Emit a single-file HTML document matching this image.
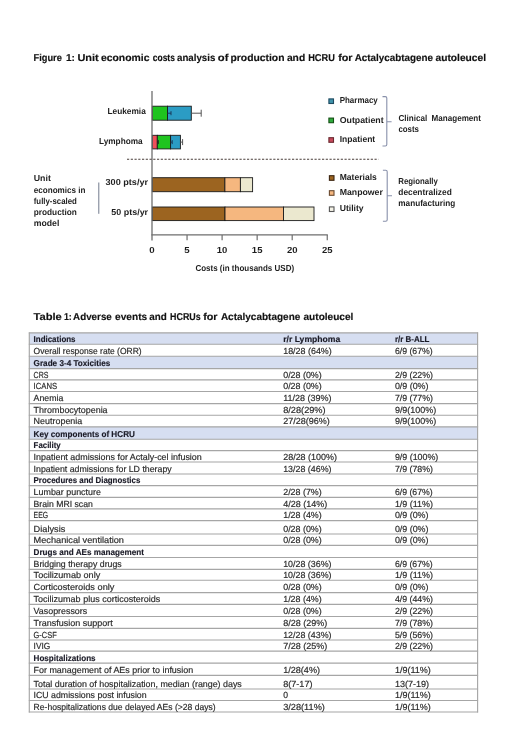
<!DOCTYPE html>
<html><head><meta charset="utf-8"><title>Figure 1 and Table 1</title>
<style>
html,body{margin:0;padding:0;background:#fff;}
body{width:520px;height:751px;position:relative;overflow:hidden;}
svg{position:absolute;left:0;top:0;display:block;filter:blur(0.3px);}
text{font-family:"Liberation Sans",sans-serif;text-rendering:geometricPrecision;white-space:pre;}
</style></head><body>
<svg width="520" height="751" viewBox="0 0 520 751">
<g><rect x='29.3' y='332.90' width='448.30' height='11.30' fill='#d6def1'/><rect x='29.3' y='356.20' width='448.30' height='12.40' fill='#d6def1'/><rect x='29.3' y='426.80' width='448.30' height='12.40' fill='#d6def1'/><line x1='28.8' y1='332.90' x2='478.1' y2='332.90' stroke='#a6a6a6' stroke-width='1.15'/><line x1='28.8' y1='344.20' x2='478.1' y2='344.20' stroke='#a6a6a6' stroke-width='1.15'/><line x1='28.8' y1='356.20' x2='478.1' y2='356.20' stroke='#a6a6a6' stroke-width='1.15'/><line x1='28.8' y1='368.60' x2='478.1' y2='368.60' stroke='#a6a6a6' stroke-width='1.15'/><line x1='28.8' y1='379.90' x2='478.1' y2='379.90' stroke='#a6a6a6' stroke-width='1.15'/><line x1='28.8' y1='391.50' x2='478.1' y2='391.50' stroke='#a6a6a6' stroke-width='1.15'/><line x1='28.8' y1='403.60' x2='478.1' y2='403.60' stroke='#a6a6a6' stroke-width='1.15'/><line x1='28.8' y1='415.20' x2='478.1' y2='415.20' stroke='#a6a6a6' stroke-width='1.15'/><line x1='28.8' y1='426.80' x2='478.1' y2='426.80' stroke='#a6a6a6' stroke-width='1.15'/><line x1='28.8' y1='439.20' x2='478.1' y2='439.20' stroke='#a6a6a6' stroke-width='1.15'/><line x1='28.8' y1='450.60' x2='478.1' y2='450.60' stroke='#a6a6a6' stroke-width='1.15'/><line x1='28.8' y1='462.00' x2='478.1' y2='462.00' stroke='#a6a6a6' stroke-width='1.15'/><line x1='28.8' y1='474.00' x2='478.1' y2='474.00' stroke='#a6a6a6' stroke-width='1.15'/><line x1='28.8' y1='485.60' x2='478.1' y2='485.60' stroke='#a6a6a6' stroke-width='1.15'/><line x1='28.8' y1='497.30' x2='478.1' y2='497.30' stroke='#a6a6a6' stroke-width='1.15'/><line x1='28.8' y1='508.90' x2='478.1' y2='508.90' stroke='#a6a6a6' stroke-width='1.15'/><line x1='28.8' y1='520.60' x2='478.1' y2='520.60' stroke='#a6a6a6' stroke-width='1.15'/><line x1='28.8' y1='534.00' x2='478.1' y2='534.00' stroke='#a6a6a6' stroke-width='1.15'/><line x1='28.8' y1='545.30' x2='478.1' y2='545.30' stroke='#a6a6a6' stroke-width='1.15'/><line x1='28.8' y1='557.50' x2='478.1' y2='557.50' stroke='#a6a6a6' stroke-width='1.15'/><line x1='28.8' y1='569.30' x2='478.1' y2='569.30' stroke='#a6a6a6' stroke-width='1.15'/><line x1='28.8' y1='580.20' x2='478.1' y2='580.20' stroke='#a6a6a6' stroke-width='1.15'/><line x1='28.8' y1='592.60' x2='478.1' y2='592.60' stroke='#a6a6a6' stroke-width='1.15'/><line x1='28.8' y1='604.30' x2='478.1' y2='604.30' stroke='#a6a6a6' stroke-width='1.15'/><line x1='28.8' y1='616.50' x2='478.1' y2='616.50' stroke='#a6a6a6' stroke-width='1.15'/><line x1='28.8' y1='628.30' x2='478.1' y2='628.30' stroke='#a6a6a6' stroke-width='1.15'/><line x1='28.8' y1='640.00' x2='478.1' y2='640.00' stroke='#a6a6a6' stroke-width='1.15'/><line x1='28.8' y1='651.10' x2='478.1' y2='651.10' stroke='#a6a6a6' stroke-width='1.15'/><line x1='28.8' y1='663.10' x2='478.1' y2='663.10' stroke='#a6a6a6' stroke-width='1.15'/><line x1='28.8' y1='675.30' x2='478.1' y2='675.30' stroke='#a6a6a6' stroke-width='1.15'/><line x1='28.8' y1='689.00' x2='478.1' y2='689.00' stroke='#a6a6a6' stroke-width='1.15'/><line x1='28.8' y1='700.50' x2='478.1' y2='700.50' stroke='#a6a6a6' stroke-width='1.15'/><line x1='28.8' y1='712.00' x2='478.1' y2='712.00' stroke='#a6a6a6' stroke-width='1.15'/><line x1='29.3' y1='332.4' x2='29.3' y2='712.5' stroke='#a6a6a6' stroke-width='1.15'/><line x1='477.6' y1='332.4' x2='477.6' y2='712.5' stroke='#a6a6a6' stroke-width='1.15'/></g>
<g><rect x='152.30' y='106.20' width='15.20' height='14.00' fill='#1fc41f' stroke='#1a1a1a' stroke-width='0.9'/><rect x='167.50' y='106.20' width='23.80' height='14.00' fill='#2b9cc4' stroke='#1a1a1a' stroke-width='0.9'/><rect x='152.30' y='135.30' width='5.00' height='13.60' fill='#f0505a' stroke='#1a1a1a' stroke-width='0.9'/><rect x='157.30' y='135.30' width='13.30' height='13.60' fill='#1fc41f' stroke='#1a1a1a' stroke-width='0.9'/><rect x='170.60' y='135.30' width='9.80' height='13.60' fill='#2b9cc4' stroke='#1a1a1a' stroke-width='0.9'/><rect x='152.30' y='177.70' width='72.60' height='14.00' fill='#9c6420' stroke='#1a1a1a' stroke-width='0.9'/><rect x='224.90' y='177.70' width='15.50' height='14.00' fill='#f5b77f' stroke='#1a1a1a' stroke-width='0.9'/><rect x='240.40' y='177.70' width='12.20' height='14.00' fill='#ebe8cf' stroke='#1a1a1a' stroke-width='0.9'/><rect x='152.30' y='207.00' width='72.70' height='13.60' fill='#9c6420' stroke='#1a1a1a' stroke-width='0.9'/><rect x='225.00' y='207.00' width='58.50' height='13.60' fill='#f5b77f' stroke='#1a1a1a' stroke-width='0.9'/><rect x='283.50' y='207.00' width='30.50' height='13.60' fill='#ebe8cf' stroke='#1a1a1a' stroke-width='0.9'/><line x1='191.30' y1='113.20' x2='201.20' y2='113.20' stroke='#555' stroke-width='1.0'/><line x1='201.20' y1='109.70' x2='201.20' y2='116.70' stroke='#555' stroke-width='1.0'/><line x1='167.50' y1='113.20' x2='171.00' y2='113.20' stroke='#1a3a5a' stroke-width='1.0'/><line x1='171.00' y1='111.20' x2='171.00' y2='115.20' stroke='#1a3a5a' stroke-width='1.0'/><line x1='180.40' y1='142.10' x2='182.60' y2='142.10' stroke='#555' stroke-width='1.0'/><line x1='182.60' y1='139.10' x2='182.60' y2='145.10' stroke='#555' stroke-width='1.0'/><line x1='170.60' y1='142.10' x2='172.20' y2='142.10' stroke='#1a3a5a' stroke-width='1.0'/><line x1='172.20' y1='140.10' x2='172.20' y2='144.10' stroke='#1a3a5a' stroke-width='1.0'/><line x1='157.30' y1='142.10' x2='158.30' y2='142.10' stroke='#222' stroke-width='1.0'/><line x1='158.30' y1='140.10' x2='158.30' y2='144.10' stroke='#222' stroke-width='1.0'/><line x1='152' y1='91' x2='152' y2='240.5' stroke='#6e6e6e' stroke-width='1.3'/><line x1='151.4' y1='234.9' x2='327.85' y2='234.9' stroke='#6e6e6e' stroke-width='1.3'/><line x1='187.05' y1='234.9' x2='187.05' y2='240.3' stroke='#6e6e6e' stroke-width='1.2'/><line x1='222.10' y1='234.9' x2='222.10' y2='240.3' stroke='#6e6e6e' stroke-width='1.2'/><line x1='257.15' y1='234.9' x2='257.15' y2='240.3' stroke='#6e6e6e' stroke-width='1.2'/><line x1='292.20' y1='234.9' x2='292.20' y2='240.3' stroke='#6e6e6e' stroke-width='1.2'/><line x1='327.25' y1='234.9' x2='327.25' y2='240.3' stroke='#6e6e6e' stroke-width='1.2'/><line x1='127' y1='159.3' x2='378.5' y2='159.3' stroke='#4a3e3a' stroke-width='1.1' stroke-dasharray='2.2 1.55'/><rect x='328.90' y='98.90' width='4.6' height='4.6' fill='#3f93ab' stroke='#1e4a60' stroke-width='1.1'/><rect x='328.90' y='118.10' width='4.6' height='4.6' fill='#2faa3c' stroke='#145014' stroke-width='1.1'/><rect x='328.90' y='137.70' width='4.6' height='4.6' fill='#c84a5c' stroke='#6a2a30' stroke-width='1.1'/><rect x='329.40' y='175.70' width='4.6' height='4.6' fill='#9c6420' stroke='#3a2410' stroke-width='1.1'/><rect x='329.40' y='190.70' width='4.6' height='4.6' fill='#f5b77f' stroke='#6a4a30' stroke-width='1.1'/><rect x='329.40' y='206.90' width='4.6' height='4.6' fill='#f4f2e6' stroke='#555' stroke-width='1.1'/><path d='M382.50,96.60 L385.30,96.60 Q386.80,96.60 386.80,98.10 L386.80,144.50 Q386.80,146.00 385.30,146.00 L382.50,146.00 M386.80,121.80 L391.60,121.80' fill='none' stroke='#8890aa' stroke-width='1.1'/><path d='M382.90,170.20 L385.70,170.20 Q387.20,170.20 387.20,171.70 L387.20,219.70 Q387.20,221.20 385.70,221.20 L382.90,221.20 M387.20,195.80 L392.00,195.80' fill='none' stroke='#8890aa' stroke-width='1.1'/><line x1='98.8' y1='182.5' x2='98.8' y2='213.8' stroke='#6c7488' stroke-width='0.95'/></g>
<g><text x='33.60' y='341.80' font-size='8.5' font-weight="700" fill='#1a1a26' stroke='#1a1a26' stroke-width='0.15' textLength='41.90' lengthAdjust='spacingAndGlyphs'>Indications</text><text x='283.20' y='341.80' font-size='8.5' font-weight="700" fill='#1a1a26' stroke='#1a1a26' stroke-width='0.15' textLength='57.10' lengthAdjust='spacingAndGlyphs'>r/r Lymphoma</text><text x='394.90' y='341.80' font-size='8.5' font-weight="700" fill='#1a1a26' stroke='#1a1a26' stroke-width='0.15' textLength='34.50' lengthAdjust='spacingAndGlyphs'>r/r B-ALL</text><text x='33.60' y='353.80' font-size='8.8' fill='#2a2a2a' stroke='#2a2a2a' stroke-width='0.18' textLength='108.00' lengthAdjust='spacingAndGlyphs'>Overall response rate (ORR)</text><text x='283.20' y='353.80' font-size='8.8' fill='#2a2a2a' stroke='#2a2a2a' stroke-width='0.18' textLength='48.60' lengthAdjust='spacingAndGlyphs'>18/28 (64%)</text><text x='394.90' y='353.80' font-size='8.8' fill='#2a2a2a' stroke='#2a2a2a' stroke-width='0.18' textLength='37.80' lengthAdjust='spacingAndGlyphs'>6/9 (67%)</text><text x='33.60' y='366.20' font-size='8.5' font-weight="700" fill='#1a1a26' stroke='#1a1a26' stroke-width='0.15' textLength='76.80' lengthAdjust='spacingAndGlyphs'>Grade 3-4 Toxicities</text><text x='33.60' y='377.50' font-size='8.8' fill='#2a2a2a' stroke='#2a2a2a' stroke-width='0.18' textLength='14.80' lengthAdjust='spacingAndGlyphs'>CRS</text><text x='283.20' y='377.50' font-size='8.8' fill='#2a2a2a' stroke='#2a2a2a' stroke-width='0.18' textLength='38.50' lengthAdjust='spacingAndGlyphs'>0/28 (0%)</text><text x='394.90' y='377.50' font-size='8.8' fill='#2a2a2a' stroke='#2a2a2a' stroke-width='0.18' textLength='38.10' lengthAdjust='spacingAndGlyphs'>2/9 (22%)</text><text x='33.60' y='389.10' font-size='8.8' fill='#2a2a2a' stroke='#2a2a2a' stroke-width='0.18' textLength='23.50' lengthAdjust='spacingAndGlyphs'>ICANS</text><text x='283.20' y='389.10' font-size='8.8' fill='#2a2a2a' stroke='#2a2a2a' stroke-width='0.18' textLength='38.50' lengthAdjust='spacingAndGlyphs'>0/28 (0%)</text><text x='394.90' y='389.10' font-size='8.8' fill='#2a2a2a' stroke='#2a2a2a' stroke-width='0.18' textLength='33.60' lengthAdjust='spacingAndGlyphs'>0/9 (0%)</text><text x='33.60' y='401.20' font-size='8.8' fill='#2a2a2a' stroke='#2a2a2a' stroke-width='0.18' textLength='29.80' lengthAdjust='spacingAndGlyphs'>Anemia</text><text x='283.20' y='401.20' font-size='8.8' fill='#2a2a2a' stroke='#2a2a2a' stroke-width='0.18' textLength='48.30' lengthAdjust='spacingAndGlyphs'>11/28 (39%)</text><text x='394.90' y='401.20' font-size='8.8' fill='#2a2a2a' stroke='#2a2a2a' stroke-width='0.18' textLength='38.10' lengthAdjust='spacingAndGlyphs'>7/9 (77%)</text><text x='33.60' y='412.80' font-size='8.8' fill='#2a2a2a' stroke='#2a2a2a' stroke-width='0.18' textLength='74.00' lengthAdjust='spacingAndGlyphs'>Thrombocytopenia</text><text x='283.20' y='412.80' font-size='8.8' fill='#2a2a2a' stroke='#2a2a2a' stroke-width='0.18' textLength='42.40' lengthAdjust='spacingAndGlyphs'>8/28(29%)</text><text x='394.90' y='412.80' font-size='8.8' fill='#2a2a2a' stroke='#2a2a2a' stroke-width='0.18' textLength='41.40' lengthAdjust='spacingAndGlyphs'>9/9(100%)</text><text x='33.60' y='424.40' font-size='8.8' fill='#2a2a2a' stroke='#2a2a2a' stroke-width='0.18' textLength='48.70' lengthAdjust='spacingAndGlyphs'>Neutropenia</text><text x='283.20' y='424.40' font-size='8.8' fill='#2a2a2a' stroke='#2a2a2a' stroke-width='0.18' textLength='46.60' lengthAdjust='spacingAndGlyphs'>27/28(96%)</text><text x='394.90' y='424.40' font-size='8.8' fill='#2a2a2a' stroke='#2a2a2a' stroke-width='0.18' textLength='41.40' lengthAdjust='spacingAndGlyphs'>9/9(100%)</text><text x='33.60' y='436.80' font-size='8.5' font-weight="700" fill='#1a1a26' stroke='#1a1a26' stroke-width='0.15' textLength='101.30' lengthAdjust='spacingAndGlyphs'>Key components of HCRU</text><text x='33.60' y='448.20' font-size='8.5' font-weight="700" fill='#1a1a26' stroke='#1a1a26' stroke-width='0.15' textLength='27.10' lengthAdjust='spacingAndGlyphs'>Facility</text><text x='33.60' y='459.60' font-size='8.8' fill='#2a2a2a' stroke='#2a2a2a' stroke-width='0.18' textLength='168.20' lengthAdjust='spacingAndGlyphs'>Inpatient admissions for Actaly-cel infusion</text><text x='283.20' y='459.60' font-size='8.8' fill='#2a2a2a' stroke='#2a2a2a' stroke-width='0.18' textLength='53.80' lengthAdjust='spacingAndGlyphs'>28/28 (100%)</text><text x='394.90' y='459.60' font-size='8.8' fill='#2a2a2a' stroke='#2a2a2a' stroke-width='0.18' textLength='43.40' lengthAdjust='spacingAndGlyphs'>9/9 (100%)</text><text x='33.60' y='471.60' font-size='8.8' fill='#2a2a2a' stroke='#2a2a2a' stroke-width='0.18' textLength='138.10' lengthAdjust='spacingAndGlyphs'>Inpatient admissions for LD therapy</text><text x='283.20' y='471.60' font-size='8.8' fill='#2a2a2a' stroke='#2a2a2a' stroke-width='0.18' textLength='48.30' lengthAdjust='spacingAndGlyphs'>13/28 (46%)</text><text x='394.90' y='471.60' font-size='8.8' fill='#2a2a2a' stroke='#2a2a2a' stroke-width='0.18' textLength='38.10' lengthAdjust='spacingAndGlyphs'>7/9 (78%)</text><text x='33.60' y='483.20' font-size='8.5' font-weight="700" fill='#1a1a26' stroke='#1a1a26' stroke-width='0.15' textLength='106.70' lengthAdjust='spacingAndGlyphs'>Procedures and Diagnostics</text><text x='33.60' y='494.90' font-size='8.8' fill='#2a2a2a' stroke='#2a2a2a' stroke-width='0.18' textLength='67.30' lengthAdjust='spacingAndGlyphs'>Lumbar puncture</text><text x='283.20' y='494.90' font-size='8.8' fill='#2a2a2a' stroke='#2a2a2a' stroke-width='0.18' textLength='38.50' lengthAdjust='spacingAndGlyphs'>2/28 (7%)</text><text x='394.90' y='494.90' font-size='8.8' fill='#2a2a2a' stroke='#2a2a2a' stroke-width='0.18' textLength='37.80' lengthAdjust='spacingAndGlyphs'>6/9 (67%)</text><text x='33.60' y='506.50' font-size='8.8' fill='#2a2a2a' stroke='#2a2a2a' stroke-width='0.18' textLength='59.20' lengthAdjust='spacingAndGlyphs'>Brain MRI scan</text><text x='283.20' y='506.50' font-size='8.8' fill='#2a2a2a' stroke='#2a2a2a' stroke-width='0.18' textLength='44.00' lengthAdjust='spacingAndGlyphs'>4/28 (14%)</text><text x='394.90' y='506.50' font-size='8.8' fill='#2a2a2a' stroke='#2a2a2a' stroke-width='0.18' textLength='38.10' lengthAdjust='spacingAndGlyphs'>1/9 (11%)</text><text x='33.60' y='518.20' font-size='8.8' fill='#2a2a2a' stroke='#2a2a2a' stroke-width='0.18' textLength='14.40' lengthAdjust='spacingAndGlyphs'>EEG</text><text x='283.20' y='518.20' font-size='8.8' fill='#2a2a2a' stroke='#2a2a2a' stroke-width='0.18' textLength='38.50' lengthAdjust='spacingAndGlyphs'>1/28 (4%)</text><text x='394.90' y='518.20' font-size='8.8' fill='#2a2a2a' stroke='#2a2a2a' stroke-width='0.18' textLength='33.60' lengthAdjust='spacingAndGlyphs'>0/9 (0%)</text><text x='33.60' y='531.60' font-size='8.8' fill='#2a2a2a' stroke='#2a2a2a' stroke-width='0.18' textLength='31.70' lengthAdjust='spacingAndGlyphs'>Dialysis</text><text x='283.20' y='531.60' font-size='8.8' fill='#2a2a2a' stroke='#2a2a2a' stroke-width='0.18' textLength='38.50' lengthAdjust='spacingAndGlyphs'>0/28 (0%)</text><text x='394.90' y='531.60' font-size='8.8' fill='#2a2a2a' stroke='#2a2a2a' stroke-width='0.18' textLength='33.60' lengthAdjust='spacingAndGlyphs'>0/9 (0%)</text><text x='33.60' y='542.90' font-size='8.8' fill='#2a2a2a' stroke='#2a2a2a' stroke-width='0.18' textLength='90.40' lengthAdjust='spacingAndGlyphs'>Mechanical ventilation</text><text x='283.20' y='542.90' font-size='8.8' fill='#2a2a2a' stroke='#2a2a2a' stroke-width='0.18' textLength='38.50' lengthAdjust='spacingAndGlyphs'>0/28 (0%)</text><text x='394.90' y='542.90' font-size='8.8' fill='#2a2a2a' stroke='#2a2a2a' stroke-width='0.18' textLength='33.60' lengthAdjust='spacingAndGlyphs'>0/9 (0%)</text><text x='33.60' y='555.10' font-size='8.5' font-weight="700" fill='#1a1a26' stroke='#1a1a26' stroke-width='0.15' textLength='110.30' lengthAdjust='spacingAndGlyphs'>Drugs and AEs management</text><text x='33.60' y='566.90' font-size='8.8' fill='#2a2a2a' stroke='#2a2a2a' stroke-width='0.18' textLength='88.10' lengthAdjust='spacingAndGlyphs'>Bridging therapy drugs</text><text x='283.20' y='566.90' font-size='8.8' fill='#2a2a2a' stroke='#2a2a2a' stroke-width='0.18' textLength='48.30' lengthAdjust='spacingAndGlyphs'>10/28 (36%)</text><text x='394.90' y='566.90' font-size='8.8' fill='#2a2a2a' stroke='#2a2a2a' stroke-width='0.18' textLength='37.80' lengthAdjust='spacingAndGlyphs'>6/9 (67%)</text><text x='33.60' y='577.80' font-size='8.8' fill='#2a2a2a' stroke='#2a2a2a' stroke-width='0.18' textLength='66.60' lengthAdjust='spacingAndGlyphs'>Tocilizumab only</text><text x='283.20' y='577.80' font-size='8.8' fill='#2a2a2a' stroke='#2a2a2a' stroke-width='0.18' textLength='48.30' lengthAdjust='spacingAndGlyphs'>10/28 (36%)</text><text x='394.90' y='577.80' font-size='8.8' fill='#2a2a2a' stroke='#2a2a2a' stroke-width='0.18' textLength='38.10' lengthAdjust='spacingAndGlyphs'>1/9 (11%)</text><text x='33.60' y='590.20' font-size='8.8' fill='#2a2a2a' stroke='#2a2a2a' stroke-width='0.18' textLength='80.80' lengthAdjust='spacingAndGlyphs'>Corticosteroids only</text><text x='283.20' y='590.20' font-size='8.8' fill='#2a2a2a' stroke='#2a2a2a' stroke-width='0.18' textLength='38.50' lengthAdjust='spacingAndGlyphs'>0/28 (0%)</text><text x='394.90' y='590.20' font-size='8.8' fill='#2a2a2a' stroke='#2a2a2a' stroke-width='0.18' textLength='33.60' lengthAdjust='spacingAndGlyphs'>0/9 (0%)</text><text x='33.60' y='601.90' font-size='8.8' fill='#2a2a2a' stroke='#2a2a2a' stroke-width='0.18' textLength='126.60' lengthAdjust='spacingAndGlyphs'>Tocilizumab plus corticosteroids</text><text x='283.20' y='601.90' font-size='8.8' fill='#2a2a2a' stroke='#2a2a2a' stroke-width='0.18' textLength='38.50' lengthAdjust='spacingAndGlyphs'>1/28 (4%)</text><text x='394.90' y='601.90' font-size='8.8' fill='#2a2a2a' stroke='#2a2a2a' stroke-width='0.18' textLength='38.10' lengthAdjust='spacingAndGlyphs'>4/9 (44%)</text><text x='33.60' y='614.10' font-size='8.8' fill='#2a2a2a' stroke='#2a2a2a' stroke-width='0.18' textLength='53.60' lengthAdjust='spacingAndGlyphs'>Vasopressors</text><text x='283.20' y='614.10' font-size='8.8' fill='#2a2a2a' stroke='#2a2a2a' stroke-width='0.18' textLength='38.50' lengthAdjust='spacingAndGlyphs'>0/28 (0%)</text><text x='394.90' y='614.10' font-size='8.8' fill='#2a2a2a' stroke='#2a2a2a' stroke-width='0.18' textLength='38.10' lengthAdjust='spacingAndGlyphs'>2/9 (22%)</text><text x='33.60' y='625.90' font-size='8.8' fill='#2a2a2a' stroke='#2a2a2a' stroke-width='0.18' textLength='79.20' lengthAdjust='spacingAndGlyphs'>Transfusion support</text><text x='283.20' y='625.90' font-size='8.8' fill='#2a2a2a' stroke='#2a2a2a' stroke-width='0.18' textLength='44.00' lengthAdjust='spacingAndGlyphs'>8/28 (29%)</text><text x='394.90' y='625.90' font-size='8.8' fill='#2a2a2a' stroke='#2a2a2a' stroke-width='0.18' textLength='38.10' lengthAdjust='spacingAndGlyphs'>7/9 (78%)</text><text x='33.60' y='637.60' font-size='8.8' fill='#2a2a2a' stroke='#2a2a2a' stroke-width='0.18' textLength='23.10' lengthAdjust='spacingAndGlyphs'>G-CSF</text><text x='283.20' y='637.60' font-size='8.8' fill='#2a2a2a' stroke='#2a2a2a' stroke-width='0.18' textLength='48.30' lengthAdjust='spacingAndGlyphs'>12/28 (43%)</text><text x='394.90' y='637.60' font-size='8.8' fill='#2a2a2a' stroke='#2a2a2a' stroke-width='0.18' textLength='38.10' lengthAdjust='spacingAndGlyphs'>5/9 (56%)</text><text x='33.60' y='648.70' font-size='8.8' fill='#2a2a2a' stroke='#2a2a2a' stroke-width='0.18' textLength='16.70' lengthAdjust='spacingAndGlyphs'>IVIG</text><text x='283.20' y='648.70' font-size='8.8' fill='#2a2a2a' stroke='#2a2a2a' stroke-width='0.18' textLength='44.00' lengthAdjust='spacingAndGlyphs'>7/28 (25%)</text><text x='394.90' y='648.70' font-size='8.8' fill='#2a2a2a' stroke='#2a2a2a' stroke-width='0.18' textLength='38.10' lengthAdjust='spacingAndGlyphs'>2/9 (22%)</text><text x='33.60' y='660.70' font-size='8.5' font-weight="700" fill='#1a1a26' stroke='#1a1a26' stroke-width='0.15' textLength='62.00' lengthAdjust='spacingAndGlyphs'>Hospitalizations</text><text x='33.60' y='672.90' font-size='8.8' fill='#2a2a2a' stroke='#2a2a2a' stroke-width='0.18' textLength='159.60' lengthAdjust='spacingAndGlyphs'>For management of AEs prior to infusion</text><text x='283.20' y='672.90' font-size='8.8' fill='#2a2a2a' stroke='#2a2a2a' stroke-width='0.18' textLength='36.80' lengthAdjust='spacingAndGlyphs'>1/28(4%)</text><text x='394.90' y='672.90' font-size='8.8' fill='#2a2a2a' stroke='#2a2a2a' stroke-width='0.18' textLength='35.90' lengthAdjust='spacingAndGlyphs'>1/9(11%)</text><text x='33.60' y='686.60' font-size='8.8' fill='#2a2a2a' stroke='#2a2a2a' stroke-width='0.18' textLength='208.20' lengthAdjust='spacingAndGlyphs'>Total duration of hospitalization, median (range) days</text><text x='283.20' y='686.60' font-size='8.8' fill='#2a2a2a' stroke='#2a2a2a' stroke-width='0.18' textLength='29.30' lengthAdjust='spacingAndGlyphs'>8(7-17)</text><text x='394.90' y='686.60' font-size='8.8' fill='#2a2a2a' stroke='#2a2a2a' stroke-width='0.18' textLength='34.20' lengthAdjust='spacingAndGlyphs'>13(7-19)</text><text x='33.60' y='698.10' font-size='8.8' fill='#2a2a2a' stroke='#2a2a2a' stroke-width='0.18' textLength='113.00' lengthAdjust='spacingAndGlyphs'>ICU admissions post infusion</text><text x='283.20' y='698.10' font-size='8.8' fill='#2a2a2a' stroke='#2a2a2a' stroke-width='0.18' textLength='4.80' lengthAdjust='spacingAndGlyphs'>0</text><text x='394.90' y='698.10' font-size='8.8' fill='#2a2a2a' stroke='#2a2a2a' stroke-width='0.18' textLength='35.90' lengthAdjust='spacingAndGlyphs'>1/9(11%)</text><text x='33.60' y='709.60' font-size='8.8' fill='#2a2a2a' stroke='#2a2a2a' stroke-width='0.18' textLength='182.00' lengthAdjust='spacingAndGlyphs'>Re-hospitalizations due delayed AEs (&gt;28 days)</text><text x='283.20' y='709.60' font-size='8.8' fill='#2a2a2a' stroke='#2a2a2a' stroke-width='0.18' textLength='41.70' lengthAdjust='spacingAndGlyphs'>3/28(11%)</text><text x='394.90' y='709.60' font-size='8.8' fill='#2a2a2a' stroke='#2a2a2a' stroke-width='0.18' textLength='35.90' lengthAdjust='spacingAndGlyphs'>1/9(11%)</text><text x='33.50' y='60.50' font-size='10.0' font-weight="700" fill='#111' stroke='#111' stroke-width='0.15' textLength='28.30' lengthAdjust='spacingAndGlyphs'>Figure</text><text x='65.90' y='60.50' font-size='10.0' font-weight="700" fill='#111' stroke='#111' stroke-width='0.15' textLength='9.00' lengthAdjust='spacingAndGlyphs'>1:</text><text x='77.40' y='60.50' font-size='10.0' font-weight="700" fill='#111' stroke='#111' stroke-width='0.15' textLength='21.40' lengthAdjust='spacingAndGlyphs'>Unit</text><text x='100.90' y='60.50' font-size='10.0' font-weight="700" fill='#111' stroke='#111' stroke-width='0.15' textLength='48.60' lengthAdjust='spacingAndGlyphs'>economic</text><text x='152.80' y='60.50' font-size='10.0' font-weight="700" fill='#111' stroke='#111' stroke-width='0.15' textLength='22.10' lengthAdjust='spacingAndGlyphs'>costs</text><text x='177.00' y='60.50' font-size='10.0' font-weight="700" fill='#111' stroke='#111' stroke-width='0.15' textLength='38.30' lengthAdjust='spacingAndGlyphs'>analysis</text><text x='217.80' y='60.50' font-size='10.0' font-weight="700" fill='#111' stroke='#111' stroke-width='0.15' textLength='10.60' lengthAdjust='spacingAndGlyphs'>of</text><text x='230.50' y='60.50' font-size='10.0' font-weight="700" fill='#111' stroke='#111' stroke-width='0.15' textLength='54.00' lengthAdjust='spacingAndGlyphs'>production</text><text x='286.90' y='60.50' font-size='10.0' font-weight="700" fill='#111' stroke='#111' stroke-width='0.15' textLength='18.30' lengthAdjust='spacingAndGlyphs'>and</text><text x='308.20' y='60.50' font-size='10.0' font-weight="700" fill='#111' stroke='#111' stroke-width='0.15' textLength='26.70' lengthAdjust='spacingAndGlyphs'>HCRU</text><text x='338.20' y='60.50' font-size='10.0' font-weight="700" fill='#111' stroke='#111' stroke-width='0.15' textLength='14.40' lengthAdjust='spacingAndGlyphs'>for</text><text x='354.70' y='60.50' font-size='10.0' font-weight="700" fill='#111' stroke='#111' stroke-width='0.15' textLength='78.30' lengthAdjust='spacingAndGlyphs'>Actalycabtagene</text><text x='435.50' y='60.50' font-size='10.0' font-weight="700" fill='#111' stroke='#111' stroke-width='0.15' textLength='50.60' lengthAdjust='spacingAndGlyphs'>autoleucel</text><text x='33.50' y='319.60' font-size='10.0' font-weight="700" fill='#111' stroke='#111' stroke-width='0.15' textLength='28.30' lengthAdjust='spacingAndGlyphs'>Table</text><text x='63.90' y='319.60' font-size='10.0' font-weight="700" fill='#111' stroke='#111' stroke-width='0.15' textLength='7.90' lengthAdjust='spacingAndGlyphs'>1:</text><text x='73.10' y='319.60' font-size='10.0' font-weight="700" fill='#111' stroke='#111' stroke-width='0.15' textLength='38.70' lengthAdjust='spacingAndGlyphs'>Adverse</text><text x='115.10' y='319.60' font-size='10.0' font-weight="700" fill='#111' stroke='#111' stroke-width='0.15' textLength='32.10' lengthAdjust='spacingAndGlyphs'>events</text><text x='149.30' y='319.60' font-size='10.0' font-weight="700" fill='#111' stroke='#111' stroke-width='0.15' textLength='17.50' lengthAdjust='spacingAndGlyphs'>and</text><text x='170.10' y='319.60' font-size='10.0' font-weight="700" fill='#111' stroke='#111' stroke-width='0.15' textLength='30.60' lengthAdjust='spacingAndGlyphs'>HCRUs</text><text x='203.20' y='319.60' font-size='10.0' font-weight="700" fill='#111' stroke='#111' stroke-width='0.15' textLength='14.40' lengthAdjust='spacingAndGlyphs'>for</text><text x='220.90' y='319.60' font-size='10.0' font-weight="700" fill='#111' stroke='#111' stroke-width='0.15' textLength='79.40' lengthAdjust='spacingAndGlyphs'>Actalycabtagene</text><text x='303.50' y='319.60' font-size='10.0' font-weight="700" fill='#111' stroke='#111' stroke-width='0.15' textLength='49.90' lengthAdjust='spacingAndGlyphs'>autoleucel</text><text x='107.50' y='114.10' font-size='8.75' font-weight="700" fill='#1e1e1e' textLength='38.30' lengthAdjust='spacingAndGlyphs'>Leukemia</text><text x='99.00' y='144.40' font-size='8.75' font-weight="700" fill='#1e1e1e' textLength='43.60' lengthAdjust='spacingAndGlyphs'>Lymphoma</text><text x='105.50' y='185.20' font-size='8.75' font-weight="700" fill='#1e1e1e' textLength='42.60' lengthAdjust='spacingAndGlyphs'>300 pts/yr</text><text x='111.30' y='215.20' font-size='8.75' font-weight="700" fill='#1e1e1e' textLength='36.80' lengthAdjust='spacingAndGlyphs'>50 pts/yr</text><text x='33.75' y='181.30' font-size='8.75' font-weight="700" fill='#1e1e1e' textLength='17.10' lengthAdjust='spacingAndGlyphs'>Unit</text><text x='33.75' y='192.50' font-size='8.75' font-weight="700" fill='#1e1e1e' textLength='51.80' lengthAdjust='spacingAndGlyphs'>economics in</text><text x='33.75' y='203.80' font-size='8.75' font-weight="700" fill='#1e1e1e' textLength='43.10' lengthAdjust='spacingAndGlyphs'>fully-scaled</text><text x='33.75' y='215.00' font-size='8.75' font-weight="700" fill='#1e1e1e' textLength='43.10' lengthAdjust='spacingAndGlyphs'>production</text><text x='33.75' y='226.30' font-size='8.75' font-weight="700" fill='#1e1e1e' textLength='25.60' lengthAdjust='spacingAndGlyphs'>model</text><text x='339.70' y='103.00' font-size='8.75' font-weight="700" fill='#1e1e1e' textLength='38.10' lengthAdjust='spacingAndGlyphs'>Pharmacy</text><text x='339.70' y='122.80' font-size='8.75' font-weight="700" fill='#1e1e1e' textLength='43.90' lengthAdjust='spacingAndGlyphs'>Outpatient</text><text x='339.70' y='142.30' font-size='8.75' font-weight="700" fill='#1e1e1e' textLength='35.50' lengthAdjust='spacingAndGlyphs'>Inpatient</text><text x='398.40' y='120.90' font-size='8.75' font-weight="700" fill='#1e1e1e' textLength='82.60' lengthAdjust='spacingAndGlyphs'>Clinical  Management</text><text x='398.40' y='131.60' font-size='8.75' font-weight="700" fill='#1e1e1e' textLength='20.60' lengthAdjust='spacingAndGlyphs'>costs</text><text x='339.70' y='180.00' font-size='8.75' font-weight="700" fill='#1e1e1e' textLength='37.10' lengthAdjust='spacingAndGlyphs'>Materials</text><text x='339.70' y='195.00' font-size='8.75' font-weight="700" fill='#1e1e1e' textLength='43.20' lengthAdjust='spacingAndGlyphs'>Manpower</text><text x='339.70' y='211.20' font-size='8.75' font-weight="700" fill='#1e1e1e' textLength='23.90' lengthAdjust='spacingAndGlyphs'>Utility</text><text x='398.30' y='183.70' font-size='8.75' font-weight="700" fill='#1e1e1e' textLength='39.60' lengthAdjust='spacingAndGlyphs'>Regionally</text><text x='398.30' y='194.90' font-size='8.75' font-weight="700" fill='#1e1e1e' textLength='53.50' lengthAdjust='spacingAndGlyphs'>decentralized</text><text x='398.30' y='206.10' font-size='8.75' font-weight="700" fill='#1e1e1e' textLength='56.90' lengthAdjust='spacingAndGlyphs'>manufacturing</text><text x='195.40' y='270.70' font-size='8.75' font-weight="700" fill='#1e1e1e' textLength='98.70' lengthAdjust='spacingAndGlyphs'>Costs (in thousands USD)</text><text x='152.00' y='253.00' font-size='8.75' font-weight="700" fill='#1e1e1e' textLength='5.40' lengthAdjust='spacingAndGlyphs' text-anchor="middle">0</text><text x='187.05' y='253.00' font-size='8.75' font-weight="700" fill='#1e1e1e' textLength='5.40' lengthAdjust='spacingAndGlyphs' text-anchor="middle">5</text><text x='222.10' y='253.00' font-size='8.75' font-weight="700" fill='#1e1e1e' textLength='10.60' lengthAdjust='spacingAndGlyphs' text-anchor="middle">10</text><text x='257.15' y='253.00' font-size='8.75' font-weight="700" fill='#1e1e1e' textLength='10.60' lengthAdjust='spacingAndGlyphs' text-anchor="middle">15</text><text x='292.20' y='253.00' font-size='8.75' font-weight="700" fill='#1e1e1e' textLength='10.60' lengthAdjust='spacingAndGlyphs' text-anchor="middle">20</text><text x='327.25' y='253.00' font-size='8.75' font-weight="700" fill='#1e1e1e' textLength='10.60' lengthAdjust='spacingAndGlyphs' text-anchor="middle">25</text></g>
</svg>
</body></html>
